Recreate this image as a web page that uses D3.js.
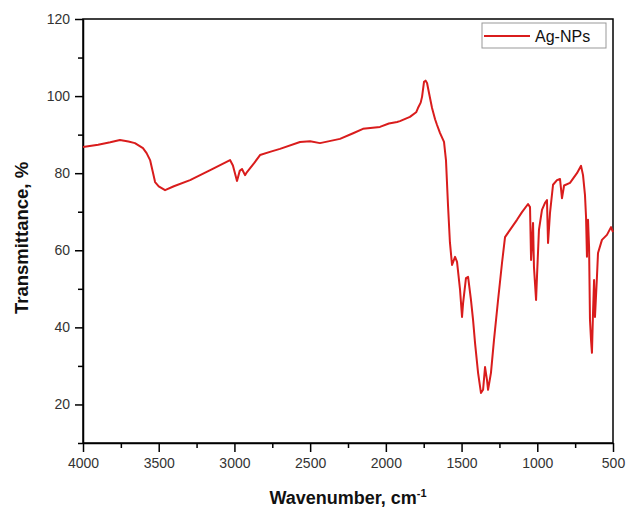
<!DOCTYPE html>
<html>
<head>
<meta charset="utf-8">
<script src="https://cdn.jsdelivr.net/npm/d3@7"></script>
<style>
  body { margin: 0; background: #fff; }
  svg { font-family: "Liberation Sans", Arial, sans-serif; }
  .tick text { fill: #333; font-size: 14px; }
  .axis path, .axis line { stroke: #000; stroke-width: 1.5; }
</style>
</head>
<body>
<svg id="chart" width="628" height="508"></svg>
<script>
// FTIR spectrum (wavenumber cm-1, transmittance %)
const wavenumber = [4000, 3900, 3820, 3756, 3700, 3657, 3604, 3580, 3557, 3540, 3524, 3500, 3458,
  3400, 3293, 3150, 3029, 3010, 2983, 2965, 2950, 2930, 2917, 2870, 2831, 2760, 2699, 2567, 2500,
  2435, 2303, 2220, 2151, 2039, 1980, 1926, 1907, 1841, 1800, 1788, 1770, 1761, 1748, 1738, 1728,
  1715, 1695, 1675, 1662, 1642, 1616, 1603, 1590, 1577, 1563, 1543, 1530, 1510, 1497, 1490, 1471,
  1457, 1438, 1424, 1411, 1391, 1372, 1358, 1345, 1332, 1325, 1306, 1286, 1259, 1233, 1213, 1180,
  1134, 1101, 1061, 1048, 1041, 1028, 1022, 1008, 1002, 989, 969, 949, 936, 929, 916, 896, 870,
  850, 837, 823, 784, 771, 738, 711, 698, 685, 678, 672, 665, 658, 652, 645, 639, 632, 625, 619,
  606, 599, 573, 540, 513, 500];
const transmittance = [86.8, 87.4, 88.0, 88.6, 88.2, 87.8, 86.5, 85.2, 83.4, 80.5, 77.7, 76.6, 75.6,
  76.6, 78.2, 81.0, 83.4, 82.0, 78.0, 80.6, 81.1, 79.5, 80.3, 82.6, 84.7, 85.6, 86.3, 88.1, 88.3,
  87.8, 88.9, 90.3, 91.5, 92.0, 92.9, 93.3, 93.5, 94.6, 95.8, 96.9, 98.3, 99.8, 103.7, 104.0, 103.4,
  100.8, 96.9, 94.0, 92.5, 90.4, 88.1, 83.4, 72.0, 62.1, 56.2, 58.3, 57.0, 49.7, 42.7, 46.3, 52.8,
  53.1, 47.1, 41.9, 35.9, 28.2, 23.0, 23.8, 29.7, 26.3, 23.8, 28.2, 36.7, 47.1, 56.7, 63.4, 65.3,
  67.9, 69.9, 72.0, 71.2, 57.5, 67.1, 55.7, 47.1, 53.1, 65.3, 70.5, 72.3, 73.0, 61.9, 69.7, 77.0,
  78.2, 78.5, 73.5, 76.8, 77.5, 78.2, 80.0, 81.9, 79.5, 74.3, 68.6, 58.3, 67.9, 60.9, 41.9, 36.7,
  33.4, 43.7, 52.3, 42.7, 53.1, 59.3, 62.7, 64.0, 66.0, 64.7];

const xTicks = [4000, 3500, 3000, 2500, 2000, 1500, 1000, 500];
const xMinor = [3750, 3250, 2750, 2250, 1750, 1250, 750];
const yTicks = [20, 40, 60, 80, 100, 120];
const yMinor = [10, 30, 50, 70, 90, 110];
const seriesName = "Ag-NPs";

const svg = d3.select("#chart");
const margin = { top: 19, right: 15, bottom: 65, left: 83 };
const innerW = 628 - margin.left - margin.right;
const innerH = 508 - margin.top - margin.bottom;

const g = svg.append("g").attr("transform", `translate(${margin.left},${margin.top})`);

const x = d3.scaleLinear().domain([4000, 500]).range([0, innerW]);
const y = d3.scaleLinear().domain([10, 120]).range([innerH, 0]);

// minor ticks first, so the major axis draws on top
g.append("g").attr("class", "axis").attr("transform", `translate(0,${innerH})`)
  .call(d3.axisBottom(x).tickValues(xMinor).tickSize(5).tickFormat(""))
  .call(s => s.select(".domain").remove());
g.append("g").attr("class", "axis")
  .call(d3.axisLeft(y).tickValues(yMinor).tickSize(5).tickFormat(""))
  .call(s => s.select(".domain").remove());

g.append("g").attr("class", "axis").attr("transform", `translate(0,${innerH})`)
  .call(d3.axisBottom(x).tickValues(xTicks).tickSize(9).tickPadding(6)
    .tickSizeOuter(0).tickFormat(d3.format("d")));
g.append("g").attr("class", "axis")
  .call(d3.axisLeft(y).tickValues(yTicks).tickSize(8).tickPadding(5)
    .tickSizeOuter(0).tickFormat(d3.format("d")));

// frame
g.append("rect").attr("width", innerW).attr("height", innerH)
  .attr("fill", "none").attr("stroke", "#000").attr("stroke-width", 1.5);

const pts = wavenumber.map((w, i) => [w, transmittance[i]]);
const line = d3.line().x(d => x(d[0])).y(d => y(d[1]));

g.append("path").datum(pts)
  .attr("d", line)
  .attr("fill", "none")
  .attr("stroke", "#d91c1c")
  .attr("stroke-width", 2)
  .attr("stroke-linejoin", "round");

// legend
const leg = g.append("g").attr("transform", `translate(${innerW - 131},4)`);
leg.append("rect").attr("width", 124).attr("height", 25)
  .attr("fill", "#fff").attr("stroke", "#999").attr("stroke-width", 1);
leg.append("line").attr("x1", 2).attr("x2", 48).attr("y1", 13).attr("y2", 13)
  .attr("stroke", "#d91c1c").attr("stroke-width", 2);
leg.append("text").attr("x", 53).attr("y", 18.5)
  .attr("font-size", 16).attr("fill", "#111").text(seriesName);

// axis titles
const xt = g.append("text")
  .attr("x", innerW / 2).attr("y", innerH + 61)
  .attr("text-anchor", "middle")
  .attr("font-size", 18).attr("font-weight", "bold").attr("fill", "#111");
xt.append("tspan").text("Wavenumber, cm");
xt.append("tspan").attr("dy", -7).attr("font-size", 11).text("-1");

g.append("text")
  .attr("transform", "rotate(-90)")
  .attr("x", -219).attr("y", -55)
  .attr("text-anchor", "middle")
  .attr("font-size", 18.5).attr("font-weight", "bold").attr("fill", "#111")
  .text("Transmittance, %");
</script>
</body>
</html>
